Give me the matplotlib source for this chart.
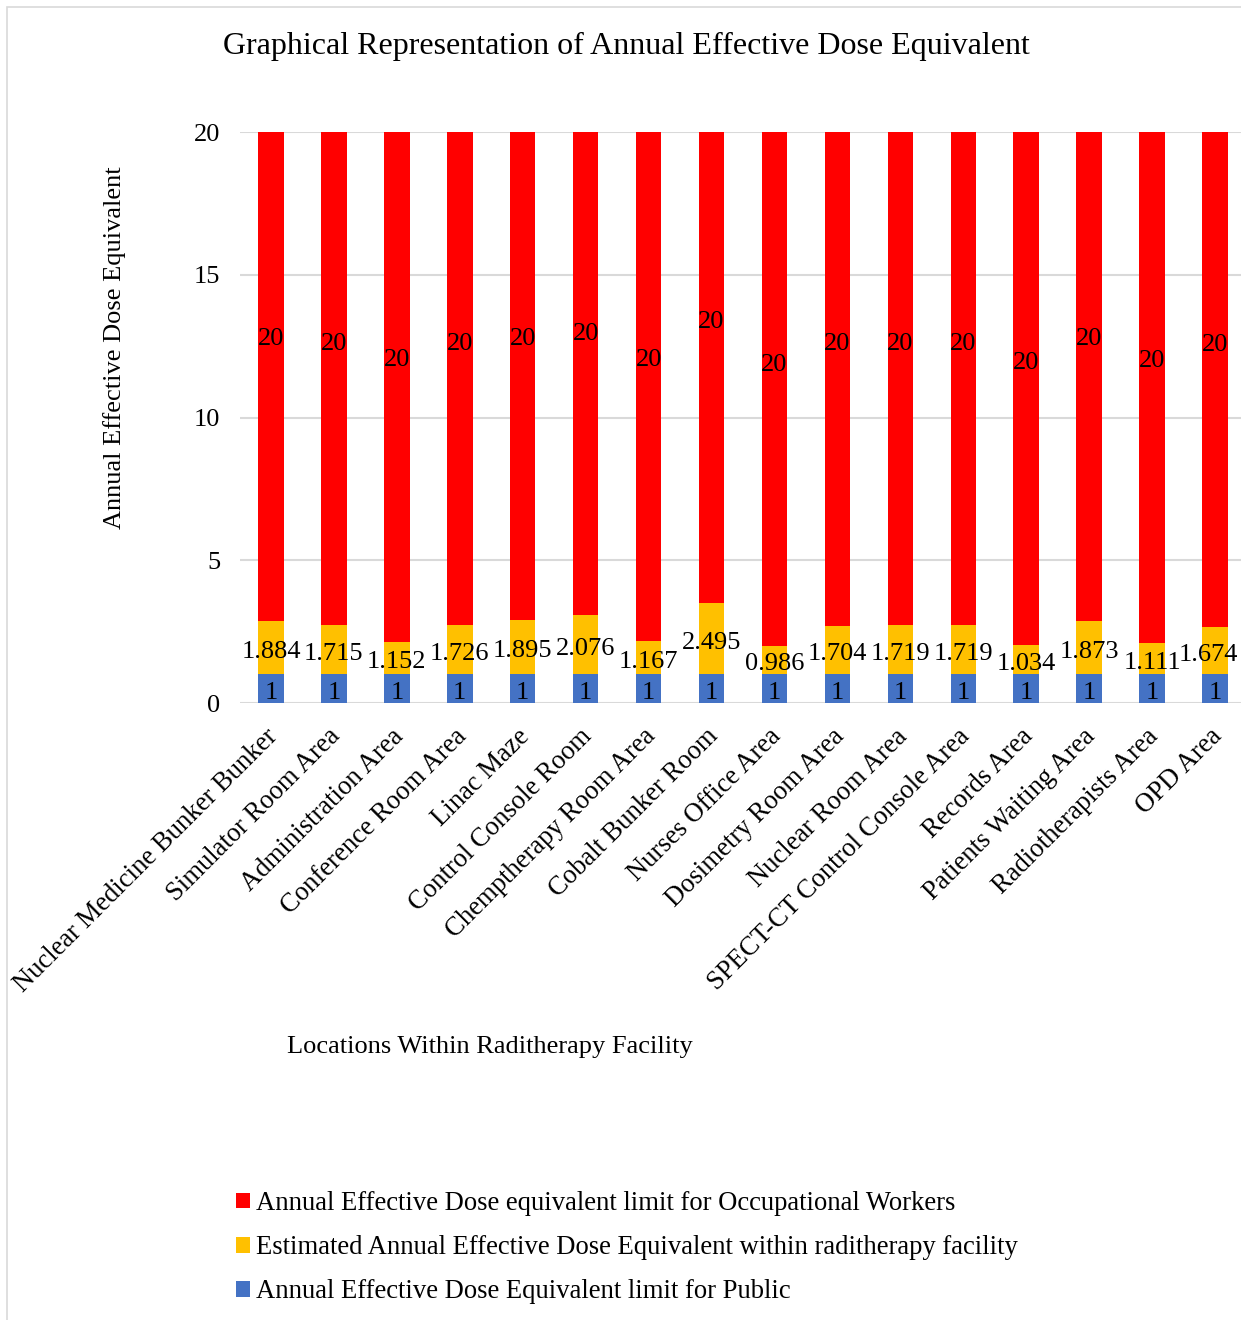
import matplotlib
matplotlib.use("Agg")
import matplotlib.pyplot as plt
from matplotlib.patches import Rectangle
import matplotlib.transforms as mtransforms
import numpy as np

plt.rcParams['font.family'] = ['Liberation Serif', 'DejaVu Serif']

locations = [
    "Nuclear Medicine Bunker Bunker", "Simulator Room Area", "Administration Area",
    "Conference Room Area", "Linac Maze", "Control Console Room",
    "Chemptherapy Room Area", "Cobalt Bunker Room", "Nurses Office Area",
    "Dosimetry Room Area", "Nuclear Room Area", "SPECT-CT Control Console Area",
    "Records Area", "Patients Waiting Area", "Radiotherapists Area", "OPD Area",
]
public_limit = [1] * 16
estimated = [1.884, 1.715, 1.152, 1.726, 1.895, 2.076, 1.167, 2.495,
             0.986, 1.704, 1.719, 1.719, 1.034, 1.873, 1.111, 1.674]
occupational_limit = [20] * 16
y_ticks = [0, 5, 10, 15, 20]

series_names = [
    "Annual Effective Dose Equivalent limit for Public",
    "Estimated Annual Effective Dose Equivalent within raditherapy facility",
    "Annual Effective Dose equivalent limit for Occupational Workers",
]
colors = ["#4472C4", "#FFC000", "#FF0000"]

W, H = 1241, 1320
fig = plt.figure(figsize=(W / 100, H / 100), dpi=100)

# outer chart frame
fig.patches.append(Rectangle((7 / W, -0.01), 1.1, 1 - 7 / H + 0.01, transform=fig.transFigure,
                             fill=False, edgecolor="#D9D9D9", linewidth=1.2))

ax = fig.add_axes([239.5 / W, (H - 703) / H, 1007 / W, (703 - 132) / H])
x = np.arange(len(locations))
bw = 0.405
fs = 19

label_shift = mtransforms.ScaledTranslation(0, -4 / 100, fig.dpi_scale_trans)
bottoms = np.zeros(len(locations))
value_texts = []
for vals, name, col, fmt in [(public_limit, series_names[0], colors[0], "{:g}"),
                             (estimated, series_names[1], colors[1], "{:.3f}"),
                             (occupational_limit, series_names[2], colors[2], "{:g}")]:
    vals = np.array(vals, dtype=float)
    ax.bar(x, vals, bw, bottom=bottoms, color=col, label=name, zorder=3)
    # value label at the middle of each full segment
    for xi, b, v in zip(x, bottoms, vals):
        t = ax.text(xi, b + v / 2, fmt.format(v), ha='center', va='center',
                    fontsize=fs, color='black', zorder=4,
                    transform=ax.transData + label_shift)
        value_texts.append(t)
    bottoms = bottoms + vals

ax.set_xlim(-0.5, len(locations) - 0.5)
ax.set_ylim(0, 20)
ax.set_yticks(y_ticks)
ax.set_yticklabels([str(t) for t in y_ticks], fontsize=fs)
ax.tick_params(axis='y', length=0, pad=14)
ax.set_xticks(x)
ax.set_xticklabels(locations, rotation=45, ha='right', rotation_mode='anchor', fontsize=19.2)
ax.tick_params(axis='x', length=0, pad=15)
xshift = mtransforms.ScaledTranslation(-6 / 100, 0, fig.dpi_scale_trans)
for lab in ax.get_xticklabels():
    lab.set_transform(lab.get_transform() + xshift)
for s in ax.spines.values():
    s.set_visible(False)
ax.grid(axis='y', color='#D9D9D9', linewidth=1.5, zorder=0)
ax.set_axisbelow(True)

fig.text(626 / W, 1 - 46 / H, "Graphical Representation of Annual Effective Dose Equivalent",
         ha='center', va='center', fontsize=23)
fig.text(115 / W, 1 - 348 / H, "Annual Effective Dose Equivalent", rotation=90,
         ha='center', va='center', fontsize=fs)
fig.text(490 / W, 1 - 1047 / H, "Locations Within Raditherapy Facility",
         ha='center', va='center', fontsize=fs)

handles, labels = ax.get_legend_handles_labels()
leg = fig.legend(handles[::-1], labels[::-1], loc='upper left',
                 bbox_to_anchor=(212 / W, 1 - 1167 / H), frameon=False, fontsize=19.2,
                 handlelength=0.52, handleheight=0.52, handletextpad=0.24, labelspacing=0.72)

# keep value labels inside the figure
fig.canvas.draw()
renderer = fig.canvas.get_renderer()
for t in value_texts:
    bb = t.get_window_extent(renderer)
    over = bb.x1 - (W - 3)
    if over > 0:
        t.set_transform(t.get_transform() + mtransforms.Affine2D().translate(-over, 0))

fig.savefig("out.png", dpi=100)
